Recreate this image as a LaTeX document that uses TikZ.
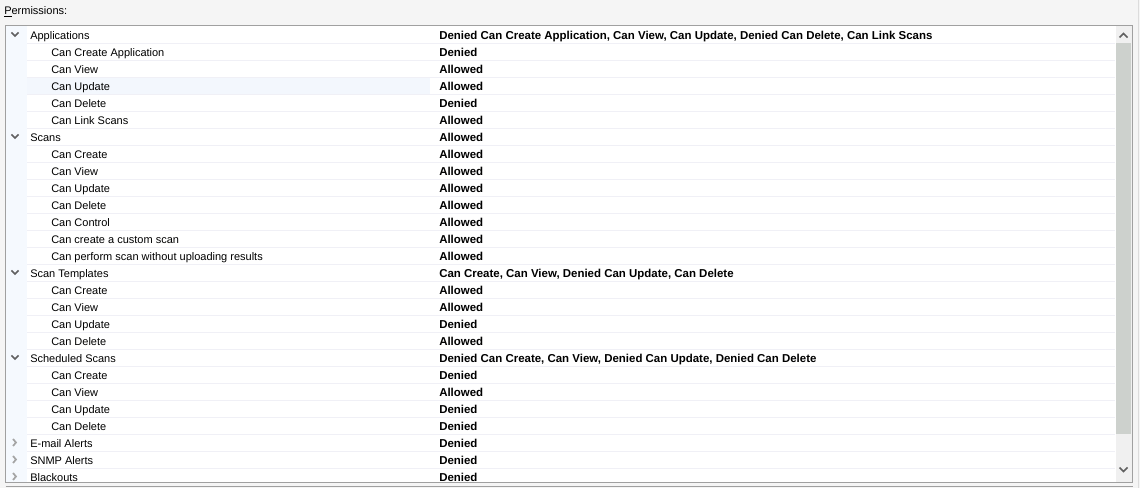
\documentclass[tikz,border=0pt]{standalone}
\usepackage{fontspec}
\setmainfont{Liberation Sans}

\definecolor{panelgray}{RGB}{245,245,245}
\definecolor{framegray}{RGB}{160,160,160}
\definecolor{stripblue}{RGB}{245,249,254}
\definecolor{hoverblue}{RGB}{243,247,253}
\definecolor{rowline}{RGB}{240,240,246}
\definecolor{thumbgray}{RGB}{205,209,205}
\definecolor{trackgray}{RGB}{240,240,240}
\definecolor{arrowgray}{RGB}{96,96,96}
\definecolor{closedgray}{RGB}{165,165,165}

\begin{document}
\begin{tikzpicture}[x=0.75pt,y=0.75pt,yscale=-1,xscale=1,
  permtxt/.style={anchor=base west,inner sep=0pt,font=\fontsize{8.25}{10}\selectfont},
  permval/.style={permtxt,font=\fontsize{8.6}{10}\selectfont\bfseries},
  openmark/.style={draw=arrowgray,line width=1.3pt},
  shutmark/.style={draw=closedgray,line width=1.3pt}]
\useasboundingbox (0,0) rectangle (1140,488);

%Panel background
\fill [panelgray] (0,0) rectangle (1140,488) ;
\draw [color={rgb, 255:red, 220; green, 220; blue, 220 }] (1138.5,0) -- (1138.5,488) ;
\draw [framegray] (5.5,486.5) -- (1132.5,486.5) ;

% Text Node
\node [permtxt] (perm) at (4,14.5) {\underline{P}ermissions:};

%List box
\draw [framegray, fill=white] (5.5,25.5) rectangle (1132.5,482.5) ;
\fill [stripblue] (6,26) rectangle (27,482) ;
\fill [hoverblue] (27,77) rectangle (430,94) ;
\foreach \y in {43,60,...,468} \draw [rowline] (27,\y+0.5) -- (1115,\y+0.5) ;

%Scroll bar
\fill [trackgray] (1116,26) rectangle (1132,482) ;
\fill [thumbgray] (1116,43) rectangle (1131,434) ;
\draw [openmark] (1119.5,37.5) -- (1123.5,33.5) -- (1127.5,37.5) ;
\draw [openmark] (1119.5,467.5) -- (1123.5,471.5) -- (1127.5,467.5) ;

\begin{scope}
\clip (6,26) rectangle (1116,482) ;

%Tree marks
\draw [openmark] (11.5,32.5) -- (15,36) -- (18.5,32.5) ;
\draw [openmark] (11.5,134.5) -- (15,138) -- (18.5,134.5) ;
\draw [openmark] (11.5,270.5) -- (15,274) -- (18.5,270.5) ;
\draw [openmark] (11.5,355.5) -- (15,359) -- (18.5,355.5) ;
\draw [shutmark] (13,439) -- (16,442.5) -- (13,446) ;
\draw [shutmark] (13,456) -- (16,459.5) -- (13,463) ;
\draw [shutmark] (13,473) -- (16,476.5) -- (13,480) ;

% Text Node
\node [permtxt] (n0) at (30,39.5) {Applications};
\node [permtxt] (n1) at (51,56.5) {Can Create Application};
\node [permtxt] (n2) at (51,73.5) {Can View};
\node [permtxt] (n3) at (51,90.5) {Can Update};
\node [permtxt] (n4) at (51,107.5) {Can Delete};
\node [permtxt] (n5) at (51,124.5) {Can Link Scans};
\node [permtxt] (n6) at (30,141.5) {Scans};
\node [permtxt] (n7) at (51,158.5) {Can Create};
\node [permtxt] (n8) at (51,175.5) {Can View};
\node [permtxt] (n9) at (51,192.5) {Can Update};
\node [permtxt] (n10) at (51,209.5) {Can Delete};
\node [permtxt] (n11) at (51,226.5) {Can Control};
\node [permtxt] (n12) at (51,243.5) {Can create a custom scan};
\node [permtxt] (n13) at (51,260.5) {Can perform scan without uploading results};
\node [permtxt] (n14) at (30,277.5) {Scan Templates};
\node [permtxt] (n15) at (51,294.5) {Can Create};
\node [permtxt] (n16) at (51,311.5) {Can View};
\node [permtxt] (n17) at (51,328.5) {Can Update};
\node [permtxt] (n18) at (51,345.5) {Can Delete};
\node [permtxt] (n19) at (30,362.5) {Scheduled Scans};
\node [permtxt] (n20) at (51,379.5) {Can Create};
\node [permtxt] (n21) at (51,396.5) {Can View};
\node [permtxt] (n22) at (51,413.5) {Can Update};
\node [permtxt] (n23) at (51,430.5) {Can Delete};
\node [permtxt] (n24) at (30,447.5) {E-mail Alerts};
\node [permtxt] (n25) at (30,464.5) {SNMP Alerts};
\node [permtxt] (n26) at (30,481.5) {Blackouts};

% Text Node
\node [permval] (v0) at (439,39.5) {Denied Can Create Application, Can View, Can Update, Denied Can Delete, Can Link Scans};
\node [permval] (v1) at (439,56.5) {Denied};
\node [permval] (v2) at (439,73.5) {Allowed};
\node [permval] (v3) at (439,90.5) {Allowed};
\node [permval] (v4) at (439,107.5) {Denied};
\node [permval] (v5) at (439,124.5) {Allowed};
\node [permval] (v6) at (439,141.5) {Allowed};
\node [permval] (v7) at (439,158.5) {Allowed};
\node [permval] (v8) at (439,175.5) {Allowed};
\node [permval] (v9) at (439,192.5) {Allowed};
\node [permval] (v10) at (439,209.5) {Allowed};
\node [permval] (v11) at (439,226.5) {Allowed};
\node [permval] (v12) at (439,243.5) {Allowed};
\node [permval] (v13) at (439,260.5) {Allowed};
\node [permval] (v14) at (439,277.5) {Can Create, Can View, Denied Can Update, Can Delete};
\node [permval] (v15) at (439,294.5) {Allowed};
\node [permval] (v16) at (439,311.5) {Allowed};
\node [permval] (v17) at (439,328.5) {Denied};
\node [permval] (v18) at (439,345.5) {Allowed};
\node [permval] (v19) at (439,362.5) {Denied Can Create, Can View, Denied Can Update, Denied Can Delete};
\node [permval] (v20) at (439,379.5) {Denied};
\node [permval] (v21) at (439,396.5) {Allowed};
\node [permval] (v22) at (439,413.5) {Denied};
\node [permval] (v23) at (439,430.5) {Denied};
\node [permval] (v24) at (439,447.5) {Denied};
\node [permval] (v25) at (439,464.5) {Denied};
\node [permval] (v26) at (439,481.5) {Denied};
\end{scope}

\end{tikzpicture}
\end{document}
